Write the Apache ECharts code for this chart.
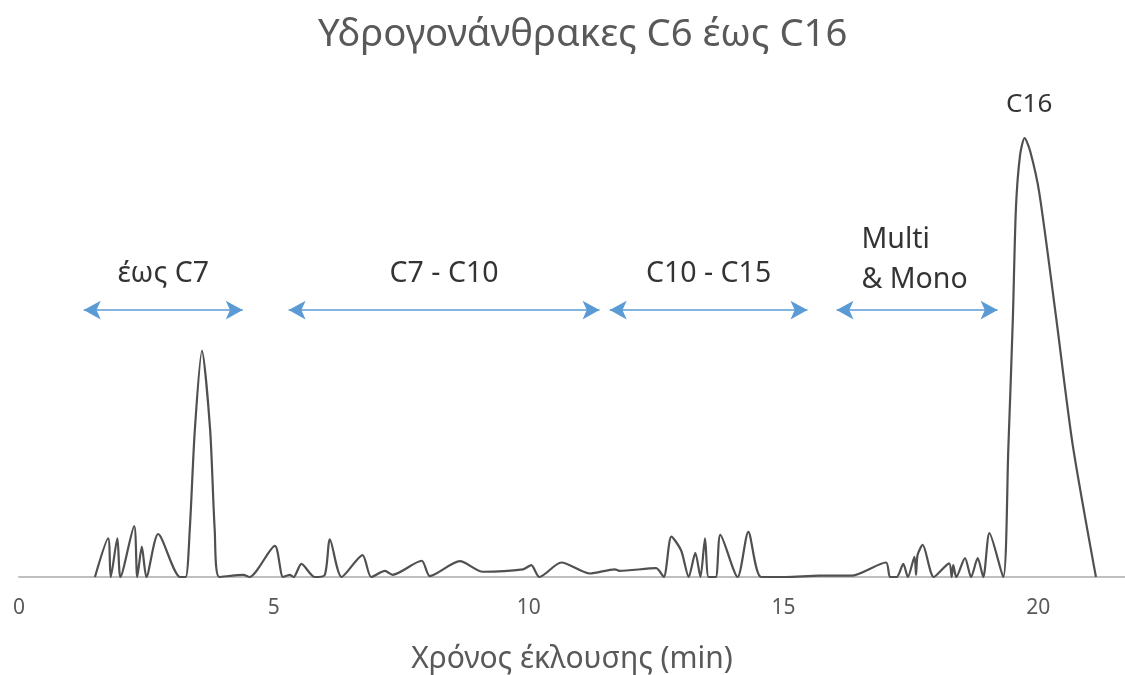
<!DOCTYPE html>
<html>
<head>
<meta charset="utf-8">
<script src="https://cdn.jsdelivr.net/npm/echarts@6/dist/echarts.min.js"></script>
<style>html,body{margin:0;padding:0;background:#fff}#c{width:1125px;height:675px}</style>
</head>
<body>
<div id="c"></div>
<script>
// Retention time (min) and detector response (relative)
var times = [1.49,1.75,1.80,1.93,1.99,2.26,2.32,2.41,2.50,2.73,3.16,3.27,3.35,3.45,3.59,3.75,3.84,3.93,4.40,4.52,
  5.02,5.18,5.31,5.39,5.54,5.80,6.00,6.10,6.33,6.74,6.91,7.18,7.33,7.90,8.06,8.65,9.10,9.89,10.05,10.21,
  10.64,11.20,11.69,11.78,12.50,12.65,12.80,12.99,13.14,13.27,13.37,13.46,13.53,13.67,13.76,14.10,14.31,14.56,
  15.05,15.70,16.33,17.01,17.09,17.22,17.35,17.44,17.57,17.60,17.63,17.73,17.95,18.25,18.30,18.33,18.39,
  18.56,18.68,18.81,18.92,19.04,19.31,19.41,19.50,19.56,19.64,19.73,19.84,20.02,20.35,20.67,21.13];
var signal = [0,8.8,0,8.8,0,11.6,0,6.9,0,9.8,0,0,10.7,33.5,51.5,33.5,10.7,0,0.5,0,
  7.1,0,0.5,0,3.0,0,0.5,8.6,0,5.0,0,1.4,0.5,3.7,0.2,3.6,1.2,1.75,2.7,0,
  3.3,0.8,1.75,1.4,2.0,0,9.2,6.1,0,5.5,0,8.8,0,0,9.6,0,10.3,0,
  0,0.3,0.3,3.3,0,0,3.0,0,4.6,0.5,5.0,7.3,0,3.1,0,2.7,0,
  4.3,0,4.3,0,10.0,0,29,59,84,96,100,97,87.4,59,30.4,0];
var xTicks = [0,5,10,15,20];
// Annotated elution ranges (min) and their labels
var rangeStart = [1.27, 5.29, 11.59, 16.04];
var rangeEnd   = [4.39, 11.39, 15.47, 19.20];
var rangeNames = ['έως C7', 'C7 - C10', 'C10 - C15', 'Multi\n& Mono'];
var peakName = 'C16';
var peakTime = 19.82;

var FONT = 'Noto Sans';
var ARROW_Y = 60.8;

var lineData = times.map(function (t, i) { return [t, signal[i]]; });

var arrowLines = rangeStart.map(function (s, i) {
  return [{ coord: [s, ARROW_Y] }, { coord: [rangeEnd[i], ARROW_Y] }];
});

var labelData = rangeNames.map(function (n, i) {
  var multi = n.indexOf('\n') >= 0;
  var mid = (rangeStart[i] + rangeEnd[i]) / 2;
  return {
    value: [multi ? 16.53 : mid, multi ? 72.2 : 69.0],
    name: n,
    label: multi ? { align: 'left', lineHeight: 40 } : {}
  };
});
labelData.push({ value: [peakTime, 107.5], name: peakName, label: { fontSize: 26 } });

var chart = echarts.init(document.getElementById('c'), null, { renderer: 'canvas' });
chart.setOption({
  animation: false,
  title: {
    text: 'Υδρογονάνθρακες C6 έως C16',
    left: 313,
    top: 11,
    textStyle: { fontFamily: FONT, fontSize: 38.3, fontWeight: 'normal', color: '#595959' }
  },
  grid: { left: 19, right: 0, top: 138, bottom: 98, containLabel: false, outerBoundsMode: 'none' },
  xAxis: {
    type: 'value',
    min: 0,
    max: 21.7,
    interval: 5,
    name: 'Χρόνος έκλουσης (min)',
    nameLocation: 'middle',
    nameGap: 67,
    nameTextStyle: { fontFamily: FONT, fontSize: 30, color: '#595959' },
    axisLine: { show: true, lineStyle: { color: '#bfbfbf', width: 2 } },
    axisTick: { show: false },
    splitLine: { show: false },
    axisLabel: {
      fontFamily: FONT, fontSize: 21, color: '#595959', margin: 21,
      showMaxLabel: false,
      formatter: function (v) { return xTicks.indexOf(v) >= 0 ? String(v) : ''; }
    }
  },
  yAxis: { type: 'value', min: 0, max: 100, show: false },
  series: [
    {
      type: 'line',
      data: lineData,
      smooth: 0.25,
      clip: false,
      symbol: 'none',
      z: 3,
      lineStyle: { color: '#505050', width: 2.2 },
      markLine: {
        silent: true,
        symbol: ['arrow', 'arrow'],
        symbolSize: [14, 17],
        label: { show: false },
        lineStyle: { color: '#5B9BD5', width: 1.5, type: 'solid' },
        data: arrowLines
      }
    },
    {
      type: 'scatter',
      data: labelData,
      symbolSize: 0,
      silent: true,
      clip: false,
      label: {
        show: true,
        position: 'inside',
        formatter: function (p) { return p.name; },
        fontFamily: FONT,
        fontSize: 28.5,
        color: '#000000'
      }
    }
  ]
});
</script>
</body>
</html>
